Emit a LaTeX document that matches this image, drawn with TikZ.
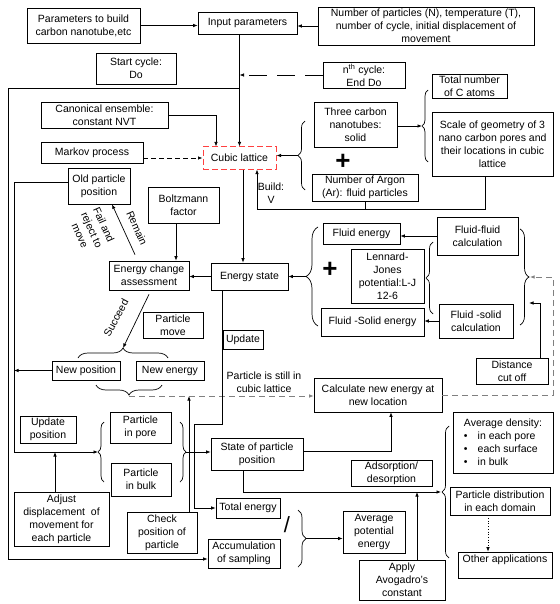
\documentclass[tikz,border=0pt]{standalone}
\usepackage{fontspec}
\setmainfont{Liberation Sans}
\usetikzlibrary{arrows.meta,decorations.pathreplacing}
\tikzset{
  mcbox/.style={draw, align=center, inner sep=1.5pt, line width=0.7pt, font=\fontsize{10.5}{13}\selectfont},
  mcsize/.style 2 args={minimum width=#1pt, minimum height=#2pt},
  mcarrow/.style={-{Latex[length=4.5pt,width=3.5pt]}, line width=0.7pt},
  mclabel/.style={font=\fontsize{10.5}{13}\selectfont, align=center, inner sep=0pt},
  mcbrace/.style={decorate, decoration={brace, amplitude=#1}, line width=0.7pt},
  mcbrace/.default=6pt,
  mcdash/.style={dash pattern=on 5pt off 3pt},
  mclong/.style={dash pattern=on 18pt off 10pt},
  mcgray/.style={draw=gray, line width=1.1pt, dash pattern=on 6pt off 4pt},
  mcsign/.style={font=\fontsize{26}{26}\selectfont\bfseries, inner sep=0pt}
}

\begin{document}
\begin{tikzpicture}[x=1pt, y=-1pt]
  \useasboundingbox (0,0) rectangle (559,604);

  % set-up
  \node[mcbox, mcsize={113}{35}] (params) at (83.5,25.5) {Parameters to build\\carbon nanotube,etc};
  \node[mcbox, mcsize={99}{22}] (input) at (247.5,23) {Input parameters};
  \node[mcbox, mcsize={216}{38}] (npart) at (426,26) {Number of particles (N), temperature (T),\\number of cycle, initial displacement of\\movement};
  \node[mcbox, mcsize={80}{31}] (startc) at (136,68.5) {Start cycle:\\Do};
  \node[mcbox, mcsize={82}{26}] (endc) at (364,75) {n\textsuperscript{th} cycle:\\End Do};
  \node[mcbox, mcsize={127}{26}] (canon) at (104.5,115) {Canonical ensemble:\\constant NVT};
  \node[mcbox, mcsize={75}{23}] (catoms) at (469.5,86.5) {Total number\\of C atoms};
  \node[mcbox, mcsize={83}{45}] (tubes) at (355.5,124.5) {Three carbon\\nanotubes:\\solid};
  \node[mcbox, mcsize={121}{64}] (scale) at (492.5,144) {Scale of geometry of 3\\nano carbon pores and\\their locations in cubic\\lattice};
  \node[mcbox, mcsize={102}{21}] (markov) at (92,152.5) {Markov process};
  \node[mcbox, mcsize={73}{22}, draw=red!75, dash pattern=on 6pt off 3pt, line width=1pt] (cubic) at (239.5,158) {Cubic lattice};
  \node[mcbox, mcsize={106}{27}] (argon) at (365,187.5) {Number of Argon\\(Ar): fluid particles};

  % energy part
  \node[mcbox, mcsize={62}{36}] (oldpos) at (99,186) {Old particle\\position};
  \node[mcbox, mcsize={71}{36}] (boltz) at (183.5,205) {Boltzmann\\factor};
  \node[mcbox, mcsize={80}{29}] (echange) at (149,275.5) {Energy change\\assessment};
  \node[mcbox, mcsize={77}{27}] (estate) at (249.5,276.5) {Energy state};
  \node[mcbox, mcsize={77}{21}] (fenergy) at (361.5,233.5) {Fluid energy};
  \node[mcbox, mcsize={81}{38}] (ffcalc) at (477.5,236) {Fluid-fluid\\calculation};
  \node[mcbox, mcsize={73}{54}] (ljpot) at (387.5,276) {Lennard-\\Jones\\potential:L-J\\12-6};
  \node[mcbox, mcsize={103}{28}] (fsenergy) at (372.5,322) {Fluid -Solid energy};
  \node[mcbox, mcsize={74}{34}] (fscalc) at (476,321) {Fluid -solid\\calculation};
  \node[mcbox, mcsize={72}{26}] (cutoff) at (512,371) {Distance\\cut off};

  % moves
  \node[mcbox, mcsize={60}{26}] (pmove) at (173,325) {Particle\\move};
  \node[mcbox, mcsize={40}{19}] (update) at (243,339.5) {Update};
  \node[mcbox, mcsize={68}{19}] (newpos) at (86,370.5) {New position};
  \node[mcbox, mcsize={68}{19}] (newen) at (170,370.5) {New energy};
  \node[mcbox, mcsize={128}{34}] (calcnew) at (378,395) {Calculate new energy at\\new location};
  \node[mcbox, mcsize={56}{27}] (updpos) at (48,429.5) {Update\\position};
  \node[mcbox, mcsize={61}{31}] (inpore) at (140.5,427.5) {Particle\\in pore};
  \node[mcbox, mcsize={60}{33}] (inbulk) at (141,479.5) {Particle\\in bulk};
  \node[mcbox, mcsize={92}{32}] (pstate) at (257,454) {State of particle\\position};

  % results
  \node[mcbox, mcsize={100}{61}, align=left] (density) at (503,442.5) {Average density:\\\textbullet\hspace{10pt}in each pore\\\textbullet\hspace{10pt}each surface\\\textbullet\hspace{10pt}in bulk};
  \node[mcbox, mcsize={81}{26}] (adsorp) at (391.5,473) {Adsorption/\\desorption};
  \node[mcbox, mcsize={100}{28}] (pdist) at (500,501) {Particle distribution\\in each domain};
  \node[mcbox, mcsize={95}{54}] (adjust) at (61.5,519) {Adjust\\displacement~ of\\movement for\\each particle};
  \node[mcbox, mcsize={64}{20}] (totalen) at (248,508) {Total energy};
  \node[mcbox, mcsize={70}{41}] (checkpos) at (162,532.5) {Check\\position of\\particle};
  \node[mcbox, mcsize={62}{42}] (avgpot) at (374,532) {Average\\potential\\energy};
  \node[mcbox, mcsize={72}{29}] (accum) at (244,553.5) {Accumulation\\of sampling};
  \node[mcbox, mcsize={86}{40}] (avog) at (402,580) {Apply\\Avogadro's\\constant};
  \node[mcbox, mcsize={94}{26}] (otherapp) at (505,565) {Other applications\\\mbox{}};

  % signs and labels
  \node[mcsign] (plusA) at (343,162) {+};
  \node[mcsign] (plusB) at (330,270) {+};
  \node[font=\fontsize{22}{22}\selectfont, inner sep=0pt] (divide) at (287,525) {/};
  \node[mclabel] (buildlbl) at (271,193) {Build:\\V};
  \node[mclabel, rotate=-66] (remainlbl) at (137,228) {Remain};
  \node[mclabel, rotate=-66] (faillbl) at (92,230) {Fail and\\reject to\\move};
  \node[mclabel, rotate=62] (succlbl) at (116,318) {Succeed};
  \node[mclabel] (stilllbl) at (264,382) {Particle is still in\\cubic lattice};

  % brace tips and corners
  \coordinate (tipcl) at (298,155.5);
  \coordinate (tipgeo) at (422,126);
  \coordinate (tipen) at (306,276.5);
  \coordinate (tipcalc) at (530,277);
  \coordinate (rcorner) at (553,277);
  \coordinate (tipcut) at (529,303);
  \coordinate (tipnew) at (123,348);
  \coordinate (tipmove) at (129,396);
  \coordinate (tipposl) at (98,452);
  \coordinate (tipposr) at (186,452);
  \coordinate (tipres) at (441,492);
  \coordinate (tipavg) at (306,538.5);
  \coordinate (innerbus) at (14,452);
  \coordinate (loopin) at (239.5,88);
  \coordinate (outerbus) at (8,559);
  \coordinate (buildc) at (257,209);
  \coordinate (updc) at (194,424);

  \draw[mcbrace=7pt] (305,190) -- (305,121);
  \draw[mcbrace=6pt] (428,162) -- (428,90);
  \draw[mcbrace=12pt] (318,326) -- (318,227);
  \draw[mcbrace=7pt] (433,314) -- (433,242);
  \draw[mcbrace=9pt] (520,229) -- (520,325);
  \draw[mcbrace=10pt] (78,358) -- (168,358);
  \draw[mcbrace=10pt] (162,385) -- (96,385);
  \draw[mcbrace=6pt] (104,482) -- (104,422);
  \draw[mcbrace=6pt] (180,422) -- (180,482);
  \draw[mcbrace=7pt] (449,558) -- (449,426);
  \draw[mcbrace=8pt] (298,510) -- (298,567);

  % connectors
  \draw[mcarrow] (params.east) -- (params.east -| input.west);
  \draw[mcarrow] (npart.west) -- (npart.west -| input.east);
  \draw[mcarrow] (input.south -| cubic.north) -- (cubic.north);
  \draw[mclong, mcarrow] (endc.west) -- (endc.west -| cubic.north);
  \draw[mcarrow] (loopin) -| (outerbus) -- (outerbus -| accum.west);
  \draw[mcarrow] (canon.east) -| ([xshift=-23.5pt]cubic.north);
  \draw[mcdash, mcarrow] (markov.east |- cubic.west) -- (cubic.west);
  \draw[mcarrow] (tipcl) -- (tipcl -| cubic.east);
  \draw[mcarrow] (tubes.east |- tipgeo) -- (tipgeo);
  \draw[mcarrow] ([xshift=-7.5pt]scale.south) |- (buildc) -- ([xshift=17.5pt]cubic.south);
  \draw[line width=0.7pt] (argon.south) -- (argon.south |- buildc);
  \draw[mcarrow] ([xshift=3.5pt]cubic.south) -- ([xshift=3.5pt]cubic.south |- estate.north);
  \draw[mcarrow] (estate.west) -- (estate.west -| echange.east);
  \draw[mcarrow] ([xshift=-7.5pt]boltz.south) -- ([xshift=-7.5pt]boltz.south |- echange.north);
  \draw[mcarrow] ([xshift=-14pt,yshift=6pt]echange.north) -- ([xshift=13pt]oldpos.south);
  \draw[mcarrow] (tipen) -- (tipen -| estate.east);
  \draw[mcarrow] (ffcalc.west) -- (ffcalc.west -| fenergy.east);
  \draw[mcarrow] (fscalc.west) -- (fscalc.west -| fsenergy.east);
  \draw[mcarrow] ([xshift=28pt]cutoff.north) |- (tipcut);
  \draw[mcgray, mcarrow] (calcnew.east) -| (rcorner) -- (tipcalc);
  \draw[mcarrow] ([yshift=-4pt]echange.south) -- (tipnew);
  \draw[mcgray, mcarrow] (tipmove) -- (tipmove -| calcnew.west);
  \draw[mcarrow] ([yshift=4pt]oldpos.west) -| (innerbus) -- (tipposl);
  \draw[mcarrow] (newpos.west) -- (newpos.west -| innerbus);
  \draw[mcarrow] ([xshift=-6.5pt]adjust.north) -- ([xshift=-6.5pt]adjust.north |- tipposl);
  \draw[mcarrow] (tipposr) -- (tipposr -| pstate.west);
  \draw[mcarrow] ([xshift=-27.5pt]estate.south) |- (updc) |- (totalen.west);
  \draw[mcarrow] ([xshift=27pt]checkpos.north) -- ([xshift=27pt]checkpos.north |- tipmove);
  \draw[mcarrow] ([yshift=3pt]pstate.east) -| ([xshift=13pt]calcnew.south);
  \draw[mcarrow] ([xshift=-14pt]pstate.south) |- (tipres);
  \draw[mcarrow] ([xshift=15pt]avog.north) -- ([xshift=15pt]avog.north |- tipres);
  \draw[mcarrow] (tipavg) -- (tipavg -| avgpot.west);
  \draw[dotted, mcarrow] ([xshift=-12pt]pdist.south) -- ([xshift=-12pt]pdist.south |- otherapp.north);
\end{tikzpicture}
\end{document}
